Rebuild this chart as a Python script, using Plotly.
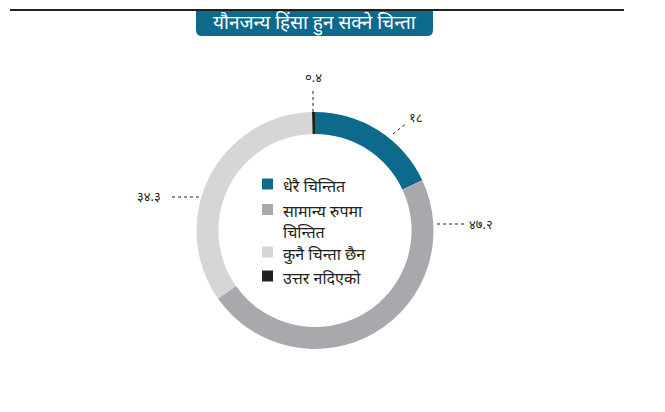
import plotly.graph_objects as go

categories = ["धेरै चिन्तित", "सामान्य रुपमा<br>चिन्तित", "कुनै चिन्ता छैन", "उत्तर नदिएको"]
values = [18, 47.2, 34.3, 0.4]
value_labels = ["१८", "४७.२", "३४.३", "०.४"]
colors = ["#0e6a8d", "#a8a9ac", "#d5d6d8", "#231f20"]
title_text = "यौनजन्य हिंसा हुन सक्ने चिन्ता"

W, H = 665, 412
FONT = "Noto Sans, Noto Sans Devanagari, Lohit Devanagari, sans-serif"

def px(x):
    return x / W

def py(y):
    return 1 - y / H

def text(x, y, s, size, color="#231f20", xanchor="center", yanchor="middle"):
    fig.add_annotation(x=px(x), y=py(y), xref="paper", yref="paper",
                       text=s, showarrow=False, xanchor=xanchor, yanchor=yanchor,
                       align="left", font=dict(size=size, color=color, family=FONT))

cx, cy, R = 315, 230.5, 118.5

fig = go.Figure()
fig.add_trace(go.Pie(
    labels=categories,
    values=values,
    marker=dict(colors=colors, line=dict(width=0)),
    hole=0.815,
    sort=False,
    direction="clockwise",
    rotation=0,
    textinfo="none",
    hoverinfo="label+value",
    showlegend=False,
    domain=dict(x=[px(cx - R), px(cx + R)], y=[py(cy + R), py(cy - R)]),
))

# value labels with dotted leader lines
label_pos = [(416, 117), (481, 224), (149, 196), (313, 77)]
leaders = [((393, 134), (407, 123)), ((437, 224), (466, 224)),
           ((172, 197), (199, 197)), ((313, 91), (313, 112))]
for (lx, ly), txt in zip(label_pos, value_labels):
    text(lx, ly, txt, 13)
for (a, b) in leaders:
    fig.add_shape(type="line", xref="paper", yref="paper",
                  x0=px(a[0]), y0=py(a[1]), x1=px(b[0]), y1=py(b[1]),
                  line=dict(color="#231f20", width=1, dash="dot"))

# legend inside the hole (first text line centred on the swatch)
leg_rows = [184, 209.5, 252, 276]
for cat, col, yy in zip(categories, colors, leg_rows):
    fig.add_shape(type="rect", xref="paper", yref="paper",
                  x0=px(262), x1=px(273), y0=py(yy - 5.5), y1=py(yy + 5.5),
                  fillcolor=col, line=dict(width=0))
    text(281, yy - 11, cat, 16, xanchor="left", yanchor="top")

# top rule
fig.add_shape(type="line", xref="paper", yref="paper",
              x0=px(10), x1=px(624), y0=py(10), y1=py(10),
              line=dict(color="#231f20", width=2))
# title box with rounded bottom corners
x0, x1, y0, y1, r = 196, 433, 11, 36, 6
path = (f"M {px(x0)},{py(y0)} L {px(x1)},{py(y0)} L {px(x1)},{py(y1 - r)} "
        f"Q {px(x1)},{py(y1)} {px(x1 - r)},{py(y1)} L {px(x0 + r)},{py(y1)} "
        f"Q {px(x0)},{py(y1)} {px(x0)},{py(y1 - r)} Z")
fig.add_shape(type="path", xref="paper", yref="paper", path=path,
              fillcolor="#0e6a8d", line=dict(width=0))
text((x0 + x1) / 2, 23, title_text, 19, color="white")

fig.update_layout(
    width=W, height=H,
    margin=dict(l=0, r=0, t=0, b=0),
    paper_bgcolor="white", plot_bgcolor="white",
    showlegend=False,
)

fig.write_html("out.html")
